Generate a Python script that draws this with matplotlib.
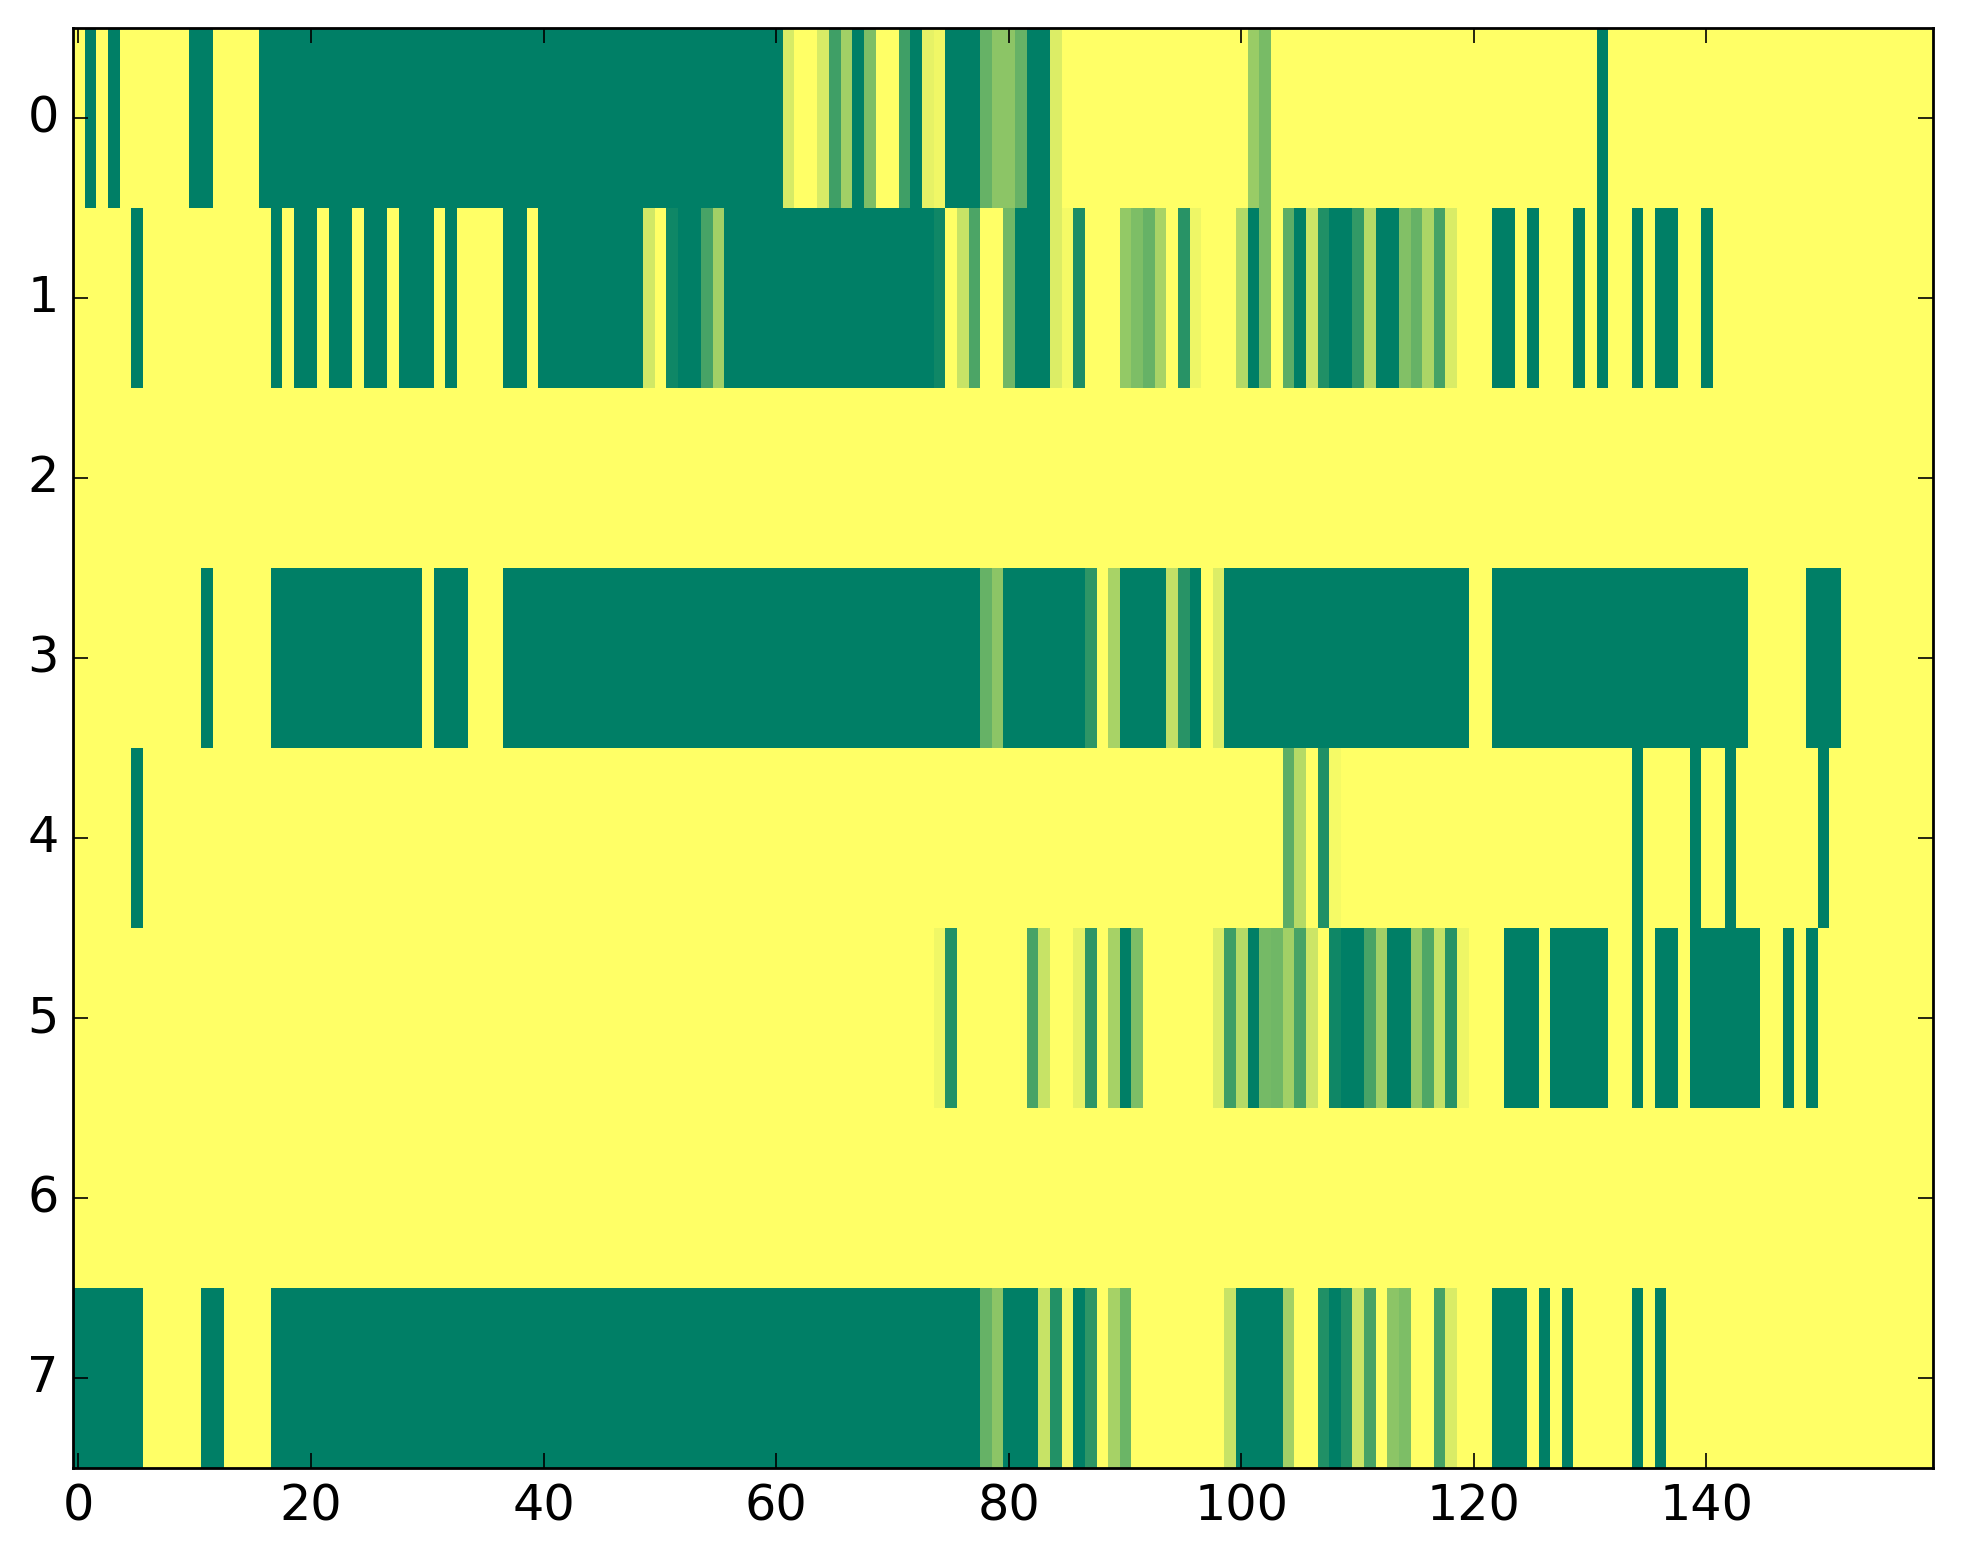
import matplotlib
matplotlib.use("Agg")
import matplotlib.pyplot as plt
import numpy as np

# ---- data: 8 rows x 160 columns (values 0..1, summer_r colormap) ----
row0 = [0, 1, 0, 1, 0, 0, 0, 0, 0, 0, 1, 1, 0, 0, 0, 0, 1, 1, 1, 1,
        1, 1, 1, 1, 1, 1, 1, 1, 1, 1, 1, 1, 1, 1, 1, 1, 1, 1, 1, 1,
        1, 1, 1, 1, 1, 1, 1, 1, 1, 1, 1, 1, 1, 1, 1, 1, 1, 1, 1, 1,
        1, 0.16, 0, 0, 0.16, 0.75, 0.37, 1, 0.51, 0, 0, 0.75, 1, 0.1, 0.06, 1, 1, 1, 0.6, 0.45,
        0.45, 0.6, 1, 1, 0.14, 0, 0, 0, 0, 0, 0, 0, 0, 0, 0, 0, 0, 0, 0, 0,
        0, 0.4, 0.53, 0, 0, 0, 0, 0, 0, 0, 0, 0, 0, 0, 0, 0, 0, 0, 0, 0,
        0, 0, 0, 0, 0, 0, 0, 0, 0, 0, 0, 1, 0, 0, 0, 0, 0, 0, 0, 0,
        0, 0, 0, 0, 0, 0, 0, 0, 0, 0, 0, 0, 0, 0, 0, 0, 0, 0, 0, 0]

row1 = [0, 0, 0, 0, 0, 1, 0, 0, 0, 0, 0, 0, 0, 0, 0, 0, 0, 1, 0, 1,
        1, 0, 1, 1, 0, 1, 1, 0, 1, 1, 1, 0, 1, 0, 0, 0, 0, 1, 1, 0,
        1, 1, 1, 1, 1, 1, 1, 1, 1, 0.18, 0, 0.94, 1, 1, 0.72, 0.37, 1, 1, 1, 1,
        1, 1, 1, 1, 1, 1, 1, 1, 1, 1, 1, 1, 1, 1, 0.94, 0, 0.22, 0.7, 0, 0,
        0.56, 1, 1, 1, 0.14, 0.04, 0.89, 0, 0, 0, 0.42, 0.51, 0.6, 0.34, 0, 0.84, 0.07, 0, 0, 0,
        0.3, 1, 0.53, 0, 0.64, 1, 0.2, 0.87, 1, 1, 0.8, 0.29, 1, 1, 0.49, 0.6, 0.33, 0.73, 0.15, 0,
        0, 0, 1, 1, 0, 1, 0, 0, 0, 1, 0, 1, 0, 0, 1, 0, 1, 1, 0, 0,
        1, 0, 0, 0, 0, 0, 0, 0, 0, 0, 0, 0, 0, 0, 0, 0, 0, 0, 0, 0]

row2 = [0, 0, 0, 0, 0, 0, 0, 0, 0, 0, 0, 0, 0, 0, 0, 0, 0, 0, 0, 0,
        0, 0, 0, 0, 0, 0, 0, 0, 0, 0, 0, 0, 0, 0, 0, 0, 0, 0, 0, 0,
        0, 0, 0, 0, 0, 0, 0, 0, 0, 0, 0, 0, 0, 0, 0, 0, 0, 0, 0, 0,
        0, 0, 0, 0, 0, 0, 0, 0, 0, 0, 0, 0, 0, 0, 0, 0, 0, 0, 0, 0,
        0, 0, 0, 0, 0, 0, 0, 0, 0, 0, 0, 0, 0, 0, 0, 0, 0, 0, 0, 0,
        0, 0, 0, 0, 0, 0, 0, 0, 0, 0, 0, 0, 0, 0, 0, 0, 0, 0, 0, 0,
        0, 0, 0, 0, 0, 0, 0, 0, 0, 0, 0, 0, 0, 0, 0, 0, 0, 0, 0, 0,
        0, 0, 0, 0, 0, 0, 0, 0, 0, 0, 0, 0, 0, 0, 0, 0, 0, 0, 0, 0]

row3 = [0, 0, 0, 0, 0, 0, 0, 0, 0, 0, 0, 1, 0, 0, 0, 0, 0, 1, 1, 1,
        1, 1, 1, 1, 1, 1, 1, 1, 1, 1, 0, 1, 1, 1, 0, 0, 0, 1, 1, 1,
        1, 1, 1, 1, 1, 1, 1, 1, 1, 1, 1, 1, 1, 1, 1, 1, 1, 1, 1, 1,
        1, 1, 1, 1, 1, 1, 1, 1, 1, 1, 1, 1, 1, 1, 1, 1, 1, 1, 0.6, 0.45,
        1, 1, 1, 1, 1, 1, 1, 0.82, 0, 0.34, 1, 1, 1, 1, 0.24, 0.84, 1, 0, 0.14, 1,
        1, 1, 1, 1, 1, 1, 1, 1, 1, 1, 1, 1, 1, 1, 1, 1, 1, 1, 1, 1,
        0, 0, 1, 1, 1, 1, 1, 1, 1, 1, 1, 1, 1, 1, 1, 1, 1, 1, 1, 1,
        1, 1, 1, 1, 0, 0, 0, 0, 0, 1, 1, 1, 0, 0, 0, 0, 0, 0, 0, 0]

row4 = [0, 0, 0, 0, 0, 1, 0, 0, 0, 0, 0, 0, 0, 0, 0, 0, 0, 0, 0, 0,
        0, 0, 0, 0, 0, 0, 0, 0, 0, 0, 0, 0, 0, 0, 0, 0, 0, 0, 0, 0,
        0, 0, 0, 0, 0, 0, 0, 0, 0, 0, 0, 0, 0, 0, 0, 0, 0, 0, 0, 0,
        0, 0, 0, 0, 0, 0, 0, 0, 0, 0, 0, 0, 0, 0, 0, 0, 0, 0, 0, 0,
        0, 0, 0, 0, 0, 0, 0, 0, 0, 0, 0, 0, 0, 0, 0, 0, 0, 0, 0, 0,
        0, 0, 0, 0, 0.64, 0.29, 0, 0.87, 0.04, 0, 0, 0, 0, 0, 0, 0, 0, 0, 0, 0,
        0, 0, 0, 0, 0, 0, 0, 0, 0, 0, 0, 0, 0, 0, 1, 0, 0, 0, 0, 1,
        0, 0, 1, 0, 0, 0, 0, 0, 0, 0, 1, 0, 0, 0, 0, 0, 0, 0, 0, 0]

row5 = [0, 0, 0, 0, 0, 0, 0, 0, 0, 0, 0, 0, 0, 0, 0, 0, 0, 0, 0, 0,
        0, 0, 0, 0, 0, 0, 0, 0, 0, 0, 0, 0, 0, 0, 0, 0, 0, 0, 0, 0,
        0, 0, 0, 0, 0, 0, 0, 0, 0, 0, 0, 0, 0, 0, 0, 0, 0, 0, 0, 0,
        0, 0, 0, 0, 0, 0, 0, 0, 0, 0, 0, 0, 0, 0, 0.06, 0.86, 0, 0, 0, 0,
        0, 0, 0.72, 0.22, 0, 0, 0.1, 0.82, 0, 0.35, 1, 0.51, 0, 0, 0, 0, 0, 0, 0.14, 0.76,
        0.29, 1, 0.54, 0.56, 0.37, 0.72, 0.2, 0, 0.94, 1, 1, 0.72, 0.37, 1, 1, 0.42, 0.69, 0.23, 0.84, 0.07,
        0, 0, 0, 1, 1, 1, 0, 1, 1, 1, 1, 1, 0, 0, 1, 0, 1, 1, 0, 1,
        1, 1, 1, 1, 1, 0, 0, 1, 0, 1, 0, 0, 0, 0, 0, 0, 0, 0, 0, 0]

row6 = [0, 0, 0, 0, 0, 0, 0, 0, 0, 0, 0, 0, 0, 0, 0, 0, 0, 0, 0, 0,
        0, 0, 0, 0, 0, 0, 0, 0, 0, 0, 0, 0, 0, 0, 0, 0, 0, 0, 0, 0,
        0, 0, 0, 0, 0, 0, 0, 0, 0, 0, 0, 0, 0, 0, 0, 0, 0, 0, 0, 0,
        0, 0, 0, 0, 0, 0, 0, 0, 0, 0, 0, 0, 0, 0, 0, 0, 0, 0, 0, 0,
        0, 0, 0, 0, 0, 0, 0, 0, 0, 0, 0, 0, 0, 0, 0, 0, 0, 0, 0, 0,
        0, 0, 0, 0, 0, 0, 0, 0, 0, 0, 0, 0, 0, 0, 0, 0, 0, 0, 0, 0,
        0, 0, 0, 0, 0, 0, 0, 0, 0, 0, 0, 0, 0, 0, 0, 0, 0, 0, 0, 0,
        0, 0, 0, 0, 0, 0, 0, 0, 0, 0, 0, 0, 0, 0, 0, 0, 0, 0, 0, 0]

row7 = [1, 1, 1, 1, 1, 1, 0, 0, 0, 0, 0, 1, 1, 0, 0, 0, 0, 1, 1, 1,
        1, 1, 1, 1, 1, 1, 1, 1, 1, 1, 1, 1, 1, 1, 1, 1, 1, 1, 1, 1,
        1, 1, 1, 1, 1, 1, 1, 1, 1, 1, 1, 1, 1, 1, 1, 1, 1, 1, 1, 1,
        1, 1, 1, 1, 1, 1, 1, 1, 1, 1, 1, 1, 1, 1, 1, 1, 1, 1, 0.6, 0.45,
        1, 1, 1, 0.22, 0.86, 0.06, 1, 0.82, 0, 0.35, 0.58, 0, 0, 0, 0, 0, 0, 0, 0, 0.22,
        1, 1, 1, 1, 0.37, 0, 0, 0.87, 1, 0.87, 0.2, 0.72, 0, 0.45, 0.51, 0, 0, 0.73, 0.15, 0,
        0, 0, 1, 1, 1, 0, 1, 0, 1, 0, 0, 0, 0, 0, 1, 0, 1, 0, 0, 0,
        0, 0, 0, 0, 0, 0, 0, 0, 0, 0, 0, 0, 0, 0, 0, 0, 0, 0, 0, 0]

rows = [row0, row1, row2, row3, row4, row5, row6, row7]
matrix = np.array(rows, dtype=float)

xticks = [0, 20, 40, 60, 80, 100, 120, 140]
yticks = [0, 1, 2, 3, 4, 5, 6, 7]

# ---- figure ----
plt.style.use("classic")
plt.rcParams["font.family"] = ["DejaVu Sans"]

fig = plt.figure(figsize=(19.63, 15.64), dpi=100)
fig.patch.set_facecolor("white")
ax = fig.add_axes([0.0370, 0.0611, 0.9847 - 0.0370, 0.9818 - 0.0611])

ax.imshow(matrix, cmap="summer_r", vmin=0, vmax=1, aspect="auto",
          interpolation="nearest")

ax.set_xticks(xticks)
ax.set_yticks(yticks)
ax.set_xlim(-0.5, matrix.shape[1] - 0.5)
ax.set_ylim(matrix.shape[0] - 0.5, -0.5)

for sp in ax.spines.values():
    sp.set_linewidth(2.0)

ax.tick_params(axis="both", which="major", direction="in", length=11,
               width=1.2, labelsize=35.5, pad=10,
               top=True, right=True, bottom=True, left=True)
ax.tick_params(which="minor", length=0)

fig.savefig("out.png", dpi=100, facecolor="white")
